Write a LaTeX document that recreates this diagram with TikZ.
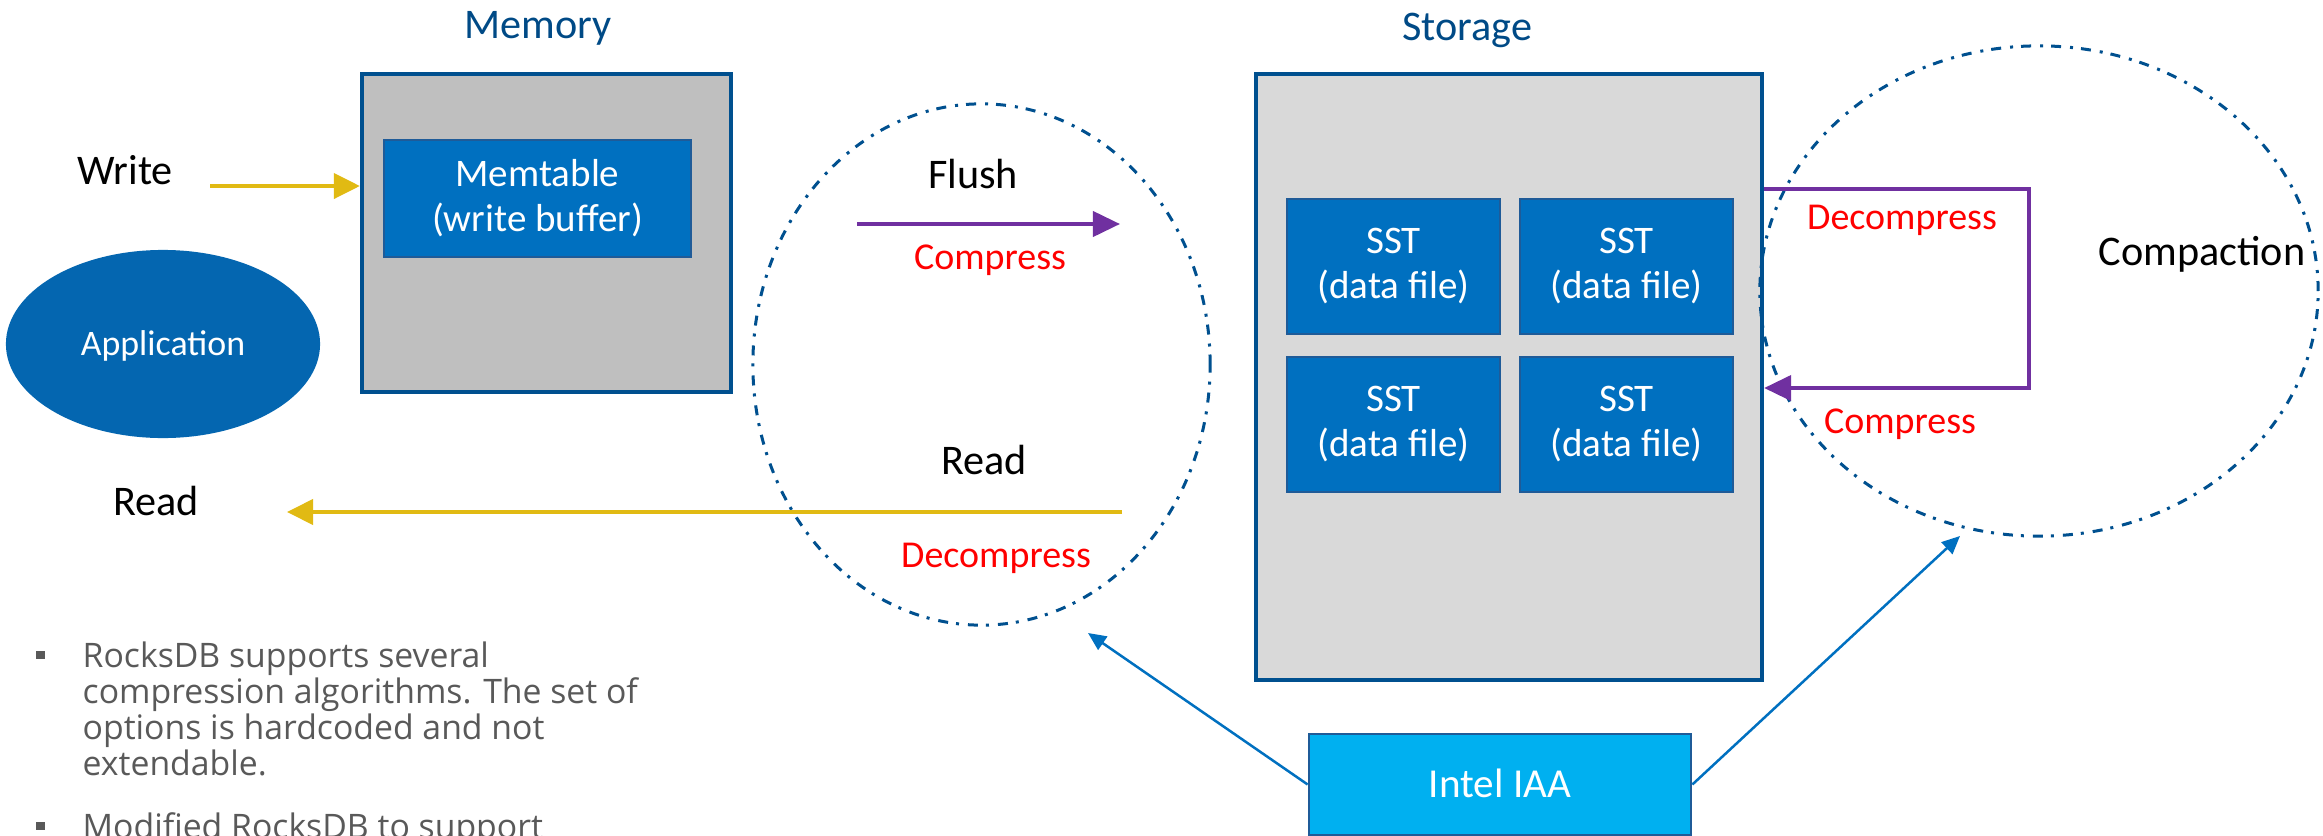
\documentclass[tikz,border=0pt]{standalone}
\usepackage{fontspec}
\setmainfont{Carlito}
\newfontfamily\notefont{Open Sans}
\usetikzlibrary{arrows.meta,shapes.geometric}

\definecolor{boxblue}{HTML}{0070C0}
\definecolor{edgeblue}{HTML}{1F5B98}
\definecolor{darkblue}{HTML}{00508F}
\definecolor{titleblue}{HTML}{004A86}
\definecolor{memgray}{HTML}{BFBFBF}
\definecolor{storgray}{HTML}{D9D9D9}
\definecolor{appblue}{HTML}{0466B0}
\definecolor{iaacyan}{HTML}{00B0F0}
\definecolor{flowyellow}{HTML}{E1BA13}
\definecolor{flowpurple}{HTML}{7030A0}
\definecolor{notegray}{HTML}{595959}
\definecolor{hotred}{HTML}{FF0000}

\begin{document}
\begin{tikzpicture}[x=0.01cm,y=-0.01cm,
  outerbox/.style={draw=darkblue,line width=0.04cm,inner sep=0pt},
  filebox/.style={draw=edgeblue,fill=boxblue,line width=0.02cm,text=white,align=center,
    font=\fontsize{11.1}{12.8}\selectfont,minimum width=2.13cm,minimum height=1.35cm},
  ringline/.style={draw=darkblue,line width=0.03cm,dash pattern=on 0.1cm off 0.08cm on 0.03cm off 0.09cm},
  headtxt/.style={text=titleblue,font=\fontsize{12}{14}\selectfont,anchor=base},
  flowtxt/.style={font=\fontsize{12}{14}\selectfont,anchor=base},
  redtxt/.style={text=hotred,font=\fontsize{10.8}{13}\selectfont,anchor=base},
  notetxt/.style={text=notegray,font=\notefont\fontsize{9.6}{11.4}\selectfont,anchor=base west,inner sep=0pt},
  notebullet/.style={fill=notegray,inner sep=0pt,minimum width=0.085cm,minimum height=0.08cm},
  yflow/.style={draw=flowyellow,line width=0.04cm,-{Triangle[length=0.26cm,width=0.25cm]}},
  pflow/.style={draw=flowpurple,line width=0.04cm,-{Triangle[length=0.27cm,width=0.25cm]}},
  bflow/.style={draw=boxblue,line width=0.025cm,-{Triangle[length=0.18cm,width=0.16cm]}}]
\useasboundingbox (0,0) rectangle (2323,836);
\clip (0,0) rectangle (2323,836);

\node[outerbox,fill=memgray,minimum width=3.69cm,minimum height=3.18cm] (mem) at (546.5,233) {};
\node[headtxt] (memhead) at (538,38) {Memory};
\node[filebox,minimum width=3.07cm,minimum height=1.17cm] (memtab) at (537.5,198.5) {Memtable\\(write buffer)};

\node[outerbox,fill=storgray,minimum width=5.06cm,minimum height=6.06cm] (stor) at (1509,377) {};
\node[headtxt] (storhead) at (1467,40) {Storage};
\foreach \n/\x/\y in {1/1393.5/266.5,2/1626.5/266.5,3/1393.5/424.5,4/1626.5/424.5}
  \node[filebox] (sst\n) at (\x,\y) {SST\\(data file)};

\node[ellipse,fill=appblue,minimum width=3.14cm,minimum height=1.88cm] (app) at (163,344) {};
\node[text=white,font=\fontsize{10.2}{12}\selectfont,anchor=base] (apptxt) at (163,355) {Application};

\node[ellipse,ringline,minimum width=4.57cm,minimum height=5.21cm] (flushring) at (981.5,364.5) {};
\node[ellipse,ringline,minimum width=5.58cm,minimum height=4.90cm] (compring) at (2039,291) {};

\node[draw=edgeblue,fill=iaacyan,line width=0.025cm,minimum width=3.82cm,minimum height=1.01cm] (iaa) at (1500,784.5) {};
\node[text=white,font=\fontsize{11.7}{14}\selectfont,anchor=base] (iaatxt) at (1500,797) {Intel IAA};

\node[flowtxt] (write) at (125,184) {Write};
\node[flowtxt] (read) at (156,515) {Read};
\node[flowtxt] (flush) at (973,188) {Flush};
\node[redtxt] (comp1) at (990,269) {Compress};
\node[flowtxt] (read2) at (984,474) {Read};
\node[redtxt] (decomp1) at (996,567) {Decompress};
\node[redtxt] (decomp2) at (1902,229) {Decompress};
\node[redtxt] (comp2) at (1900,433) {Compress};
\node[flowtxt] (compact) at (2202,265) {Compaction};

\coordinate (wstart) at (210,186);
\coordinate (rstart) at (1122,512);
\coordinate (rend) at (287,512);
\coordinate (fstart) at (857,224);
\coordinate (fend) at (1120,224);
\coordinate (ctop) at (2029,189);
\coordinate (cbot) at (2029,388);
\coordinate (tflush) at (1088,633);
\coordinate (tcomp) at (1960,536);

\draw[yflow] (wstart) -- (wstart -| mem.west);
\draw[yflow] (rstart) -- (rend);
\draw[pflow] (fstart) -- (fend);
\draw[pflow] (stor.east |- ctop) -- (ctop) -- (cbot) -- (stor.east |- cbot);
\draw[bflow] (iaa.west) -- (tflush);
\draw[bflow] (iaa.east) -- (tcomp);

\node[notebullet] (b1) at (40.5,655) {};
\foreach \t [count=\i] in {RocksDB supports several,compression algorithms. The set of,options is hardcoded and not,extendable.}
  \node[notetxt] (note\i) at (82,631+36*\i) {\t};
\node[notebullet] (b2) at (40.5,826) {};
\node[notetxt] (note5) at (82,838) {Modified RocksDB to support};
\end{tikzpicture}
\end{document}
